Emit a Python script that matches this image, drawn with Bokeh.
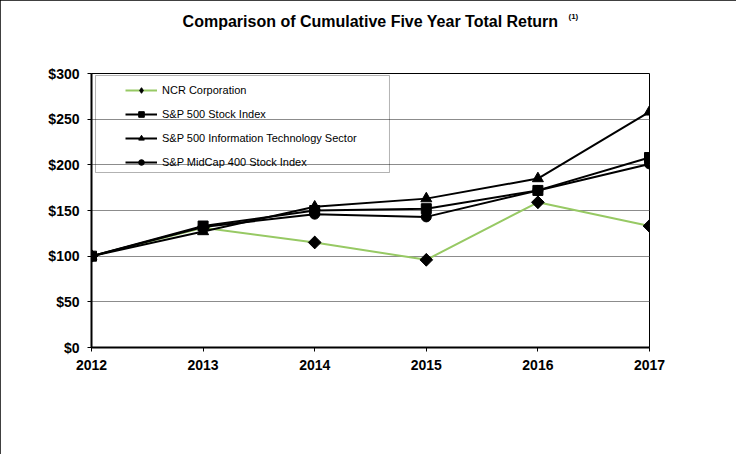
from bokeh.plotting import figure
from bokeh.models import (Range1d, FixedTicker, NumeralTickFormatter, Legend, LegendItem,
                          BoxAnnotation, ColumnDataSource, Title)
from bokeh.embed import file_html
from bokeh.resources import INLINE

years = [2012, 2013, 2014, 2015, 2016, 2017]
ncr = [100, 131, 115, 96, 159, 133]
sp500 = [100, 133, 150, 152, 172, 208]
sp_it = [100, 127, 154, 163, 185, 258]
midcap = [100, 132, 146, 143, 172, 201]
y_ticks = [0, 50, 100, 150, 200, 250, 300]

series_names = ["NCR Corporation", "S&P 500 Stock Index",
                "S&P 500 Information Technology Sector", "S&P MidCap 400 Stock Index"]
title_text = "Comparison of Cumulative Five Year Total Return"
footnote = "(1)"

FONT = "Liberation Sans"

p = figure(width=736, height=454, output_backend="svg", toolbar_location=None,
           x_range=Range1d(2012, 2017), y_range=Range1d(0, 300),
           min_border_left=91, min_border_right=87, min_border_top=73, min_border_bottom=107)
p.styles = {"outline": "1px solid black", "outline-offset": "-1px"}

p.outline_line_color = "black"
p.outline_line_width = 1
p.background_fill_color = "white"
p.border_fill_color = "white"

p.xgrid.visible = False
p.ygrid.grid_line_color = "#8c8c8c"
p.ygrid.grid_line_width = 1

for ax in (p.xaxis[0], p.yaxis[0]):
    ax.axis_line_color = "black"
    ax.axis_line_width = 2
    ax.major_tick_line_color = "black"
    ax.major_tick_line_width = 1
    ax.major_tick_out = 4
    ax.major_tick_in = 0
    ax.minor_tick_line_color = None
    ax.major_label_text_font = FONT
    ax.major_label_text_font_style = "bold"
    ax.major_label_text_font_size = "14px"
    ax.major_label_text_color = "black"

p.xaxis.ticker = FixedTicker(ticks=years)
p.xaxis.major_label_standoff = 8
p.yaxis.ticker = FixedTicker(ticks=y_ticks)
p.yaxis.formatter = NumeralTickFormatter(format="$0")
p.yaxis.major_label_standoff = 8

green = "#97c964"
src = ColumnDataSource(dict(x=years, ncr=ncr, sp500=sp500, sp_it=sp_it, midcap=midcap))

l1 = p.line("x", "ncr", source=src, line_color=green, line_width=2)
# diamond (used for the legend key) sits inside the rotated square drawn over it
ncr_key = p.scatter("x", "ncr", source=src, marker="diamond", size=12, color="black")
m1 = p.scatter("x", "ncr", source=src, marker="square", angle=0.785398, size=9, color="black")
l2 = p.line("x", "sp500", source=src, line_color="black", line_width=2)
m2 = p.scatter("x", "sp500", source=src, marker="square", size=10, color="black")
l3 = p.line("x", "sp_it", source=src, line_color="black", line_width=2)
m3 = p.scatter("x", "sp_it", source=src, marker="triangle", size=11, color="black")
l4 = p.line("x", "midcap", source=src, line_color="black", line_width=2)
m4 = p.scatter("x", "midcap", source=src, marker="circle", size=10, color="black")

items = [LegendItem(label=series_names[0], renderers=[l1, ncr_key]),
         LegendItem(label=series_names[1], renderers=[l2, m2]),
         LegendItem(label=series_names[2], renderers=[l3, m3]),
         LegendItem(label=series_names[3], renderers=[l4, m4])]

legend_box = BoxAnnotation(left=2012.036, right=2014.67, top=297.8, bottom=191.6,
                           fill_alpha=0, fill_color=None, line_color="black", line_width=1,
                           level="overlay")
p.add_layout(legend_box)

legend = Legend(items=items, location=(34, 175), padding=2, spacing=3,
                label_height=21, glyph_height=14, glyph_width=32, label_standoff=5,
                label_text_font=FONT, label_text_font_size="11px", label_text_color="black",
                border_line_color=None, background_fill_alpha=0, margin=0)
p.add_layout(legend, "center")

# panels above the frame, added from the frame outward
spacer = Title(text=" ", text_font_size="1px", text_color="white", standoff=48)
p.add_layout(spacer, "above")
title = Title(text=title_text, text_font=FONT, text_font_size="16px", text_font_style="bold",
              align="center", text_color="black", standoff=-14)
p.add_layout(title, "above")
sup = Title(text=footnote, text_font=FONT, text_font_size="8px", text_font_style="bold",
            align="left", offset=477, text_color="black", standoff=-7)
p.add_layout(sup, "above")

open("out.html", "w").write(file_html(p, INLINE))
